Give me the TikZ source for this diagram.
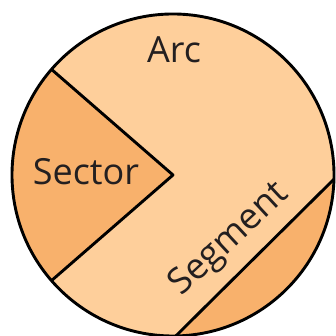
\documentclass[tikz,border=0pt]{standalone}
\usepackage{fontspec}
\setmainfont{Open Sans}
\usetikzlibrary{calc}
\definecolor{lightpeach}{HTML}{FECF9B}
\definecolor{darkpeach}{HTML}{F8B16C}
\definecolor{textgray}{HTML}{231F20}
\begin{document}
\begin{tikzpicture}[x=1pt,y=1pt,
  outline/.style={draw=black,line width=2.9pt,line join=round},
  lbl/.style={font=\fontsize{36}{40}\selectfont,text=textgray,inner sep=0pt}]
\useasboundingbox (0,0) rectangle (335,336);
\coordinate (c) at (173,161);
\def\R{161}
% whole disc
\fill[lightpeach] (c) circle (\R);
% segment
\fill[darkpeach] ($(c)+(-89:\R)$) coordinate (s1) arc (-89:-1.5:\R) coordinate (s2) -- cycle;
% sector
\fill[darkpeach] (c) -- ($(c)+(139:\R)$) coordinate (p1) arc (139:221:\R) coordinate (p2) -- cycle;
% lines
\draw[outline] (p1) -- (c) -- (p2);
\draw[outline] (s1) -- (s2);
\draw[outline] (c) circle (\R);
% labels
\node[lbl] (arc) at (174,286) {Arc};
\node[lbl] (sector) at (86,164) {Sector};
\node[lbl,rotate=43] (segment) at (230,96) {Segment};
\end{tikzpicture}
\end{document}
